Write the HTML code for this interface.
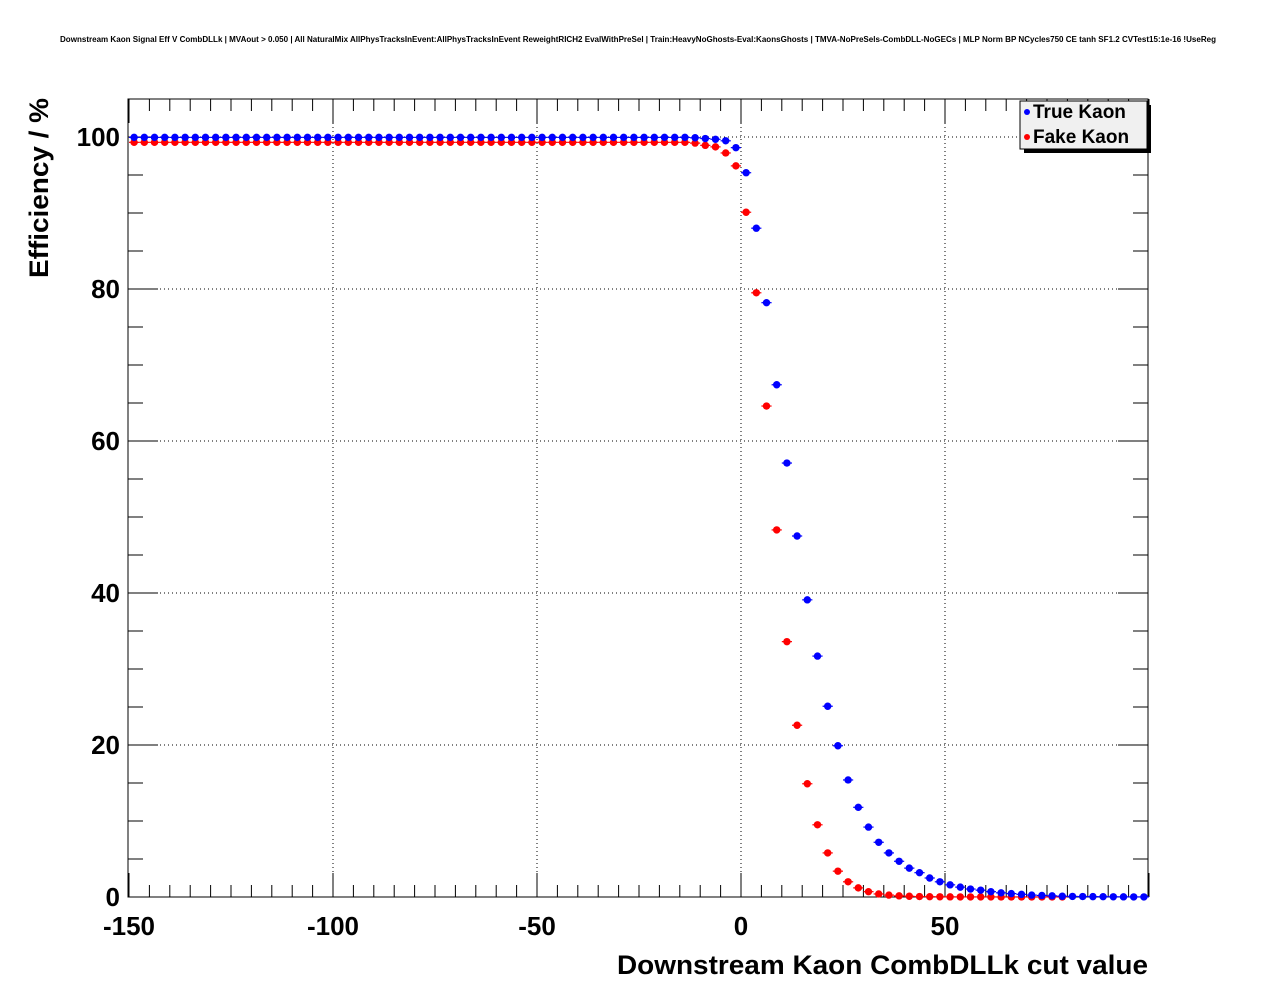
<!DOCTYPE html>
<html><head><meta charset="utf-8"><style>body{margin:0;background:#fff}svg{display:block}text{font-family:"Liberation Sans",sans-serif}</style></head>
<body>
<svg id="s" width="1276" height="996" xmlns="http://www.w3.org/2000/svg">
<rect width="1276" height="996" fill="#fff"/>
<text x="638" y="42" font-size="8" font-weight="bold" text-anchor="middle" textLength="1156" lengthAdjust="spacingAndGlyphs">Downstream Kaon Signal Eff V CombDLLk | MVAout &gt; 0.050 | All NaturalMix AllPhysTracksInEvent:AllPhysTracksInEvent ReweightRICH2 EvalWithPreSel | Train:HeavyNoGhosts-Eval:KaonsGhosts | TMVA-NoPreSels-CombDLL-NoGECs | MLP Norm BP NCycles750 CE tanh SF1.2 CVTest15:1e-16 !UseReg</text>
<g id="grid" stroke="#000" stroke-dasharray="1,3" stroke-width="1"></g>
<rect x="128" y="99" width="1020" height="798" fill="none" stroke="#000" stroke-width="1"/>
<g id="ticks" stroke="#000" stroke-width="1"></g>
<g id="lab" font-size="26" font-weight="bold"></g>
<text x="1148" y="974" font-size="27" font-weight="bold" text-anchor="end" textLength="531" lengthAdjust="spacingAndGlyphs">Downstream Kaon CombDLLk cut value</text>
<text transform="translate(48,278) rotate(-90)" font-size="27" font-weight="bold" textLength="180" lengthAdjust="spacingAndGlyphs">Efficiency / %</text>
<g id="pts"></g>
<rect x="1024" y="105" width="127" height="48" fill="#000"/>
<rect x="1020" y="101" width="127" height="48" fill="#f0f0f0" stroke="#000" stroke-width="1"/>
<circle cx="1027" cy="112" r="3" fill="#00f"/><text x="1033" y="118" font-size="19" font-weight="bold">True Kaon</text>
<circle cx="1027" cy="137" r="3" fill="#f00"/><text x="1033" y="143" font-size="19" font-weight="bold">Fake Kaon</text>
</svg>
<script>
const NS="http://www.w3.org/2000/svg";
function el(p,t,a){const e=document.createElementNS(NS,t);for(const k in a)e.setAttribute(k,a[k]);p.appendChild(e);return e;}
const X=v=>741+v*4.08, Y=v=>897-v*7.6;
const g=document.getElementById('grid'),tk=document.getElementById('ticks'),lb=document.getElementById('lab'),pts=document.getElementById('pts');
for(const v of[-100,-50,0,50]) el(g,'line',{x1:X(v),x2:X(v),y1:99,y2:897});
for(const v of[20,40,60,80,100]) el(g,'line',{x1:128,x2:1148,y1:Y(v),y2:Y(v)});
for(let v=-150;v<=100;v+=5){const big=v%50==0;el(tk,'line',{x1:X(v),x2:X(v),y1:897,y2:897-(big?24:12)});el(tk,'line',{x1:X(v),x2:X(v),y1:99,y2:99+(big?24:12)});}
for(let v=0;v<=105;v+=5){const big=v%20==0;el(tk,'line',{x1:128,x2:128+(big?30:15),y1:Y(v),y2:Y(v)});el(tk,'line',{x1:1148,x2:1148-(big?30:15),y1:Y(v),y2:Y(v)});}
for(const v of[-150,-100,-50,0,50]){const t=el(lb,'text',{x:X(v),y:935,'text-anchor':'middle'});t.textContent=v;}
for(const v of[0,20,40,60,80,100]){const t=el(lb,'text',{x:120,y:Y(v)+9,'text-anchor':'end'});t.textContent=v;}
const blueA=[95.3,88,78.2,67.4,57.1,47.5,39.1,31.7,25.1,19.9,15.4,11.8,9.2,7.2,5.8,4.7,3.8,3.2,2.5,2.0,1.6,1.3,1.05,0.9,0.7,0.55,0.45,0.35,0.25,0.2,0.15,0.1,0.08,0.06,0.05,0.04,0.03,0.02,0.01,0.01];
const redA=[90.1,79.5,64.6,48.3,33.6,22.6,14.9,9.5,5.8,3.4,2.0,1.2,0.7,0.4,0.25,0.15,0.1,0.06,0.04,0.03,0.02,0.01,0.01,0.01,0.01,0.005,0.005,0.005,0.005,0.005,0.005,0.005];
const blueB=[98.6,99.5,99.7,99.8,99.9];
const redB=[96.2,97.9,98.7,98.9,99.2];
function val(arrA,arrB,flat,i){
  if(i>=60){const k=i-60;return k<arrA.length?arrA[k]:null;}
  const k=59-i; return k<arrB.length?arrB[k]:flat;}
function draw(col,arrA,arrB,flat){
  for(let i=0;i<100;i++){const v=val(arrA,arrB,flat,i);if(v===null)continue;const c=-148.75+2.5*i;
    el(pts,'line',{x1:X(c-1.25),x2:X(c+1.25),y1:Y(v),y2:Y(v),stroke:col,'stroke-width':1.2});
    el(pts,'circle',{cx:X(c),cy:Y(v),r:3.7,fill:col});}}
draw('#f00',redA,redB,99.3);
draw('#00f',blueA,blueB,99.95);
</script>
</body></html>
